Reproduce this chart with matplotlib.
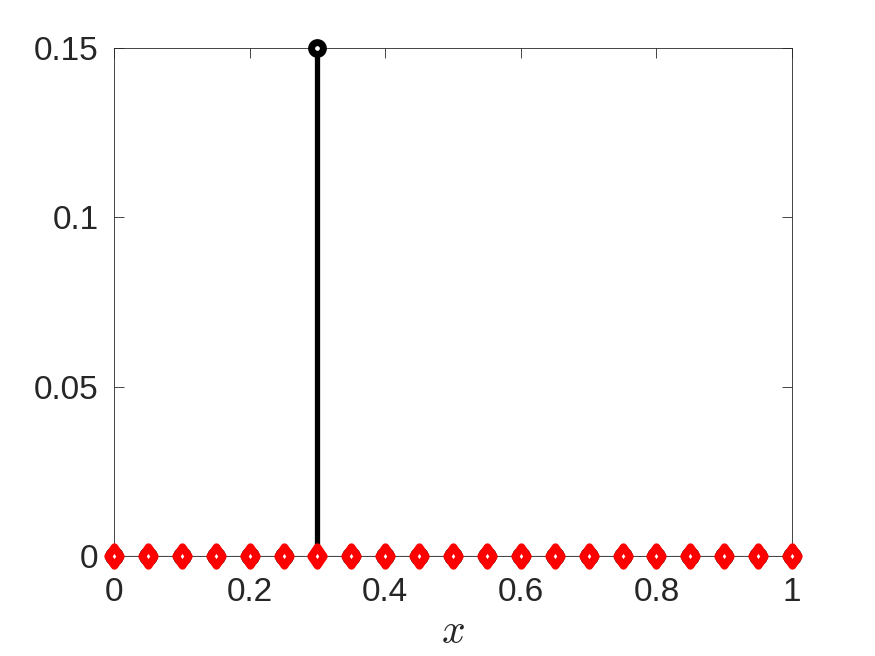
import matplotlib
matplotlib.use("Agg")
import matplotlib.pyplot as plt
from matplotlib.path import Path
from matplotlib.markers import MarkerStyle

x_vals = [0.0, 0.05, 0.1, 0.15, 0.2, 0.25, 0.3, 0.35, 0.4, 0.45, 0.5,
          0.55, 0.6, 0.65, 0.7, 0.75, 0.8, 0.85, 0.9, 0.95, 1.0]
black_vals = [0, 0, 0, 0, 0, 0, 0.15, 0, 0, 0, 0,
              0, 0, 0, 0, 0, 0, 0, 0, 0, 0]
red_vals = [0, 0, 0, 0, 0, 0, 0, 0, 0, 0, 0,
            0, 0, 0, 0, 0, 0, 0, 0, 0, 0]
x_ticks = [0, 0.2, 0.4, 0.6, 0.8, 1]
x_ticklabels = ["0", "0.2", "0.4", "0.6", "0.8", "1"]
y_ticks = [0, 0.05, 0.1, 0.15]
y_ticklabels = ["0", "0.05", "0.1", "0.15"]

plt.rcParams['font.family'] = ['Liberation Sans', 'DejaVu Sans']
plt.rcParams['mathtext.fontset'] = 'cm'

fig = plt.figure(figsize=(8.75, 6.56), dpi=100)
ax = fig.add_axes([114/875, 1 - 556/656, (792-114)/875, (556-48)/656])

gray = '#262626'

diamond_path = Path([(0, 1), (0.68, 0), (0, -1), (-0.68, 0), (0, 1)],
                    [Path.MOVETO, Path.LINETO, Path.LINETO, Path.LINETO, Path.CLOSEPOLY])
diamond = MarkerStyle(diamond_path, joinstyle='miter')

# baseline
ax.axhline(0, color='black', lw=0.8, zorder=1)

# black stems
for xv, yv in zip(x_vals, black_vals):
    if yv != 0:
        ax.plot([xv, xv], [0, yv], color='black', lw=3.8, solid_capstyle='butt', zorder=2)
ax.plot(x_vals, black_vals, linestyle='none', marker='o', markersize=8.5,
        markeredgewidth=5, markeredgecolor='black', markerfacecolor='white',
        clip_on=False, zorder=3)

# red markers
ax.plot(x_vals, red_vals, linestyle='none', marker=diamond, markersize=13.5,
        markeredgewidth=5.5, markeredgecolor='red', markerfacecolor='white',
        clip_on=False, zorder=4)

ax.set_xlim(0, 1)
ax.set_ylim(0, 0.15)
ax.set_xticks(x_ticks)
ax.set_xticklabels(x_ticklabels)
ax.set_yticks(y_ticks)
ax.set_yticklabels(y_ticklabels)
ax.tick_params(direction='in', length=7, width=0.6, colors=gray, labelsize=24,
               top=True, right=True, labelcolor=gray)
ax.tick_params(axis='x', pad=15)
ax.tick_params(axis='y', pad=11)
for sp in ax.spines.values():
    sp.set_color(gray)
    sp.set_linewidth(0.6)

ax.set_xlabel(r'$x$', fontsize=30, color=gray, labelpad=3)

fig.savefig('out.png', dpi=100)
